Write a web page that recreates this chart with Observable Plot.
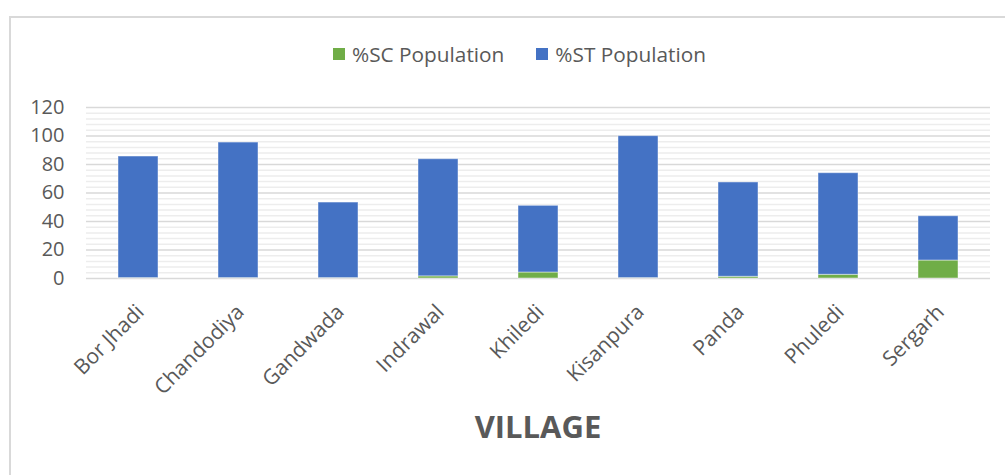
<!DOCTYPE html>
<html><head><meta charset="utf-8">
<script src="https://cdn.jsdelivr.net/npm/d3@7"></script>
<script src="https://cdn.jsdelivr.net/npm/@observablehq/plot@0.6"></script>
<style>
html,body{margin:0;padding:0;background:#fff;}
body{width:1005px;height:475px;overflow:hidden;position:relative;font-family:"Open Sans",sans-serif;}
#title{position:absolute;top:-29px;left:40px;width:1005px;white-space:nowrap;color:#ed7d31;font-weight:bold;font-size:22px;}
#frame{position:absolute;left:9px;top:16px;width:1020px;height:480px;border:2px solid #d9d9d9;box-sizing:border-box;}
#legend{position:absolute;top:40px;left:333px;display:flex;align-items:center;font-size:20.8px;color:#595959;}
.item{display:flex;align-items:center;margin-right:32px;}
.sw{width:12px;height:12px;margin-right:7px;}
#chart{position:absolute;left:0;top:0;}
#xlabel{position:absolute;left:0;width:1076px;top:405px;text-align:center;font-weight:bold;font-size:31px;color:#595959;}
</style>
</head><body>
<div id="title">Percentage of SC and ST population of surveyed villages</div>
<div id="frame"></div>
<div id="chart"></div>
<div id="legend"></div>
<div id="xlabel">VILLAGE</div>
<script>
const villages = ["Bor Jhadi","Chandodiya","Gandwada","Indrawal","Khiledi","Kisanpura","Panda","Phuledi","Sergarh"];
const scPct = [0.3, 0.3, 0.3, 1.5, 4.2, 0.3, 1.2, 2.6, 12.6];
const stPct = [85.3, 95.1, 53.0, 82.2, 46.8, 99.6, 66.2, 71.3, 31.1];
const seriesNames = ["%SC Population","%ST Population"];
const seriesColors = ["#70ad47","#4472c4"];
const yTicks = [0,20,40,60,80,100,120];

const data = [];
villages.forEach((v,i)=>data.push({village:v, series:seriesNames[0], value:scPct[i]}));
villages.forEach((v,i)=>data.push({village:v, series:seriesNames[1], value:stPct[i]}));

const minor = d3.range(0, 121, 4).filter(d => d % 20 !== 0);

const plot = Plot.plot({
  width: 1005,
  height: 475,
  marginTop: 107,
  marginBottom: 197,
  marginLeft: 86,
  marginRight: 15,
  style: {fontFamily: '"Open Sans", sans-serif', background: "transparent"},
  x: {domain: villages, paddingInner: 0.6, paddingOuter: 0.3, label: null},
  y: {domain: [0,120], label: null},
  color: {domain: seriesNames, range: seriesColors},
  marks: [
    Plot.ruleY(minor, {stroke: "#ededed", strokeWidth: 1.5}),
    Plot.ruleY(yTicks, {stroke: "#d9d9d9", strokeWidth: 1.5}),
    Plot.barY(data, {x: "village", y: "value", fill: "series", stroke: "#ffffff", strokeOpacity: 0.45, strokeWidth: 1}),
    Plot.axisY({ticks: yTicks, tickSize: 0, tickPadding: 22, fontSize: 20, fill: "#595959", label: null}),
    Plot.axisX({tickSize: 0, tickRotate: -45, tickPadding: 30, dx: 2, fontSize: 21, fill: "#595959", label: null})
  ]
});
document.getElementById("chart").appendChild(plot);

const lg = document.getElementById("legend");
seriesNames.forEach((s,i)=>{
  const it = document.createElement("div"); it.className="item";
  const sw = document.createElement("div"); sw.className="sw"; sw.style.background = seriesColors[i];
  const tx = document.createElement("span"); tx.textContent = s;
  it.appendChild(sw); it.appendChild(tx); lg.appendChild(it);
});
</script>
</body></html>
